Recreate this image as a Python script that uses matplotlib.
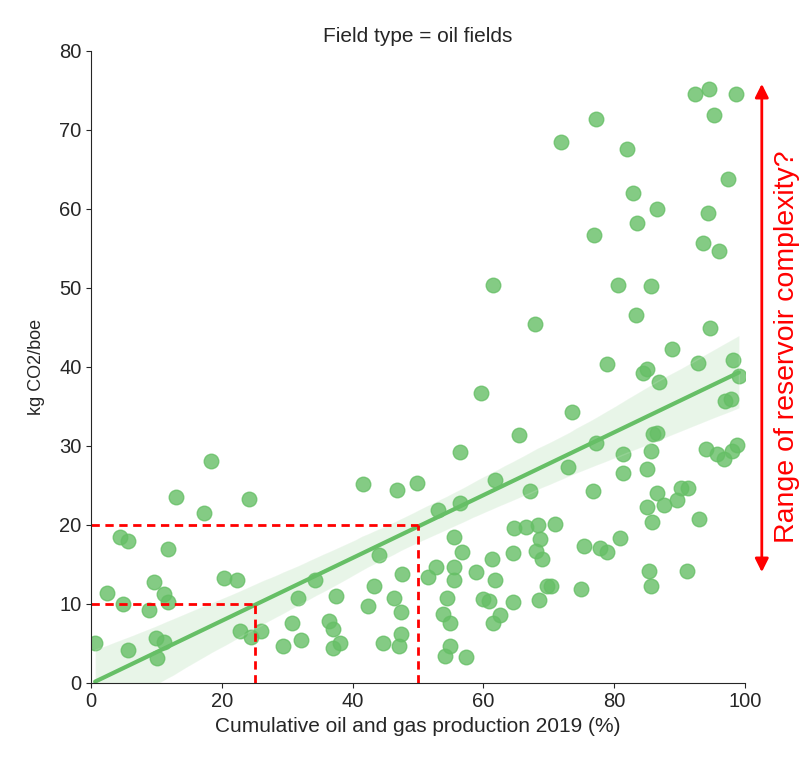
import numpy as np
import seaborn as sns
from matplotlib import pyplot as plt

# cumulative production share (%) and emission intensity (kg CO2/boe), oil fields
cum_prod = [0.6, 2.4, 4.4, 4.8, 5.7, 5.7, 8.8, 9.6, 9.9, 10.0, 11.1, 11.2, 11.7, 11.8, 13.0,
            17.3, 18.3, 20.3, 22.3, 22.8, 24.1, 24.4, 26.0, 29.4, 30.7, 31.6, 32.1, 34.3, 36.4, 37.0,
            37.0, 37.5, 38.1, 41.6, 42.4, 43.2, 44.1, 44.6, 46.3, 46.8, 47.1, 47.4, 47.4, 47.6, 49.9,
            51.6, 52.7, 53.0, 53.9, 54.2, 54.4, 54.9, 54.9, 55.5, 55.5, 55.5, 56.4, 56.5, 56.8, 57.4,
            58.8, 59.6, 59.9, 60.9, 61.3, 61.4, 61.5, 61.8, 61.8, 62.6, 64.5, 64.6, 64.7, 65.4, 66.6,
            67.1, 67.9, 68.0, 68.4, 68.5, 68.7, 68.9, 69.7, 70.4, 71.0, 71.9, 73.0, 73.6, 75.0, 75.4,
            76.8, 76.9, 77.2, 77.3, 77.8, 78.9, 78.9, 80.6, 80.9, 81.3, 81.4, 82.0, 82.9, 83.3, 83.5,
            84.4, 85.0, 85.0, 85.0, 85.3, 85.6, 85.6, 85.7, 85.8, 86.0, 86.6, 86.5, 86.6, 86.9, 87.6,
            88.8, 89.6, 90.3, 91.3, 91.1, 92.4, 92.9, 93.0, 93.6, 94.0, 94.3, 94.5, 94.6, 95.3, 95.7,
            96.0, 96.8, 97.0, 97.4, 97.9, 98.1, 98.2, 98.6, 98.8, 99.1]
intensity = [5.0, 11.4, 18.5, 10.0, 18.0, 4.1, 9.2, 12.7, 5.7, 3.1, 11.2, 5.1, 10.2, 16.9, 23.5,
             21.5, 28.1, 13.2, 13.0, 6.6, 23.2, 5.8, 6.5, 4.6, 7.6, 10.7, 5.4, 13.0, 7.8, 6.8,
             4.4, 11.0, 5.0, 25.1, 9.7, 12.2, 16.2, 5.0, 10.7, 24.4, 4.6, 9.0, 6.2, 13.8, 25.3,
             13.4, 14.6, 21.9, 8.7, 3.4, 10.7, 7.6, 4.6, 18.4, 14.7, 13.0, 22.7, 29.2, 16.6, 3.3,
             14.0, 36.7, 10.6, 10.3, 15.6, 7.6, 50.3, 25.6, 13.0, 8.6, 10.2, 16.4, 19.6, 31.3, 19.7,
             24.3, 45.4, 16.7, 20.0, 10.5, 18.2, 15.6, 12.3, 12.3, 20.1, 68.4, 27.3, 34.3, 11.9, 17.3,
             24.3, 56.7, 71.4, 30.3, 17.0, 16.6, 40.3, 50.3, 18.3, 28.9, 26.6, 67.5, 62.0, 46.5, 58.2,
             39.2, 39.7, 27.0, 22.2, 14.2, 12.2, 50.2, 29.3, 20.4, 31.5, 31.6, 60.0, 24.0, 38.1, 22.5,
             42.3, 23.1, 24.6, 24.6, 14.2, 74.5, 40.5, 20.7, 55.7, 29.6, 59.5, 75.2, 44.9, 71.9, 28.9,
             54.6, 28.3, 35.7, 63.8, 35.9, 29.3, 40.8, 74.5, 30.1, 38.8]

# guide lines (production share -> intensity)
guide_x = [25, 50]
guide_y = [10, 20]
x_ticks = [0, 20, 40, 60, 80, 100]
y_ticks = [0, 10, 20, 30, 40, 50, 60, 70, 80]
range_span = [14.0, 75.8]

sns.set_style("ticks")
plt.rcParams['font.family'] = ['Liberation Sans', 'DejaVu Sans']

fig, ax = plt.subplots(figsize=(8, 7.68), dpi=100)
fig.subplots_adjust(left=0.114, right=0.931, bottom=0.111, top=0.934)

green = '#66bf66'
sns.regplot(x=np.array(cum_prod), y=np.array(intensity), ax=ax, color=green, seed=0,
            scatter_kws={'s': 110, 'alpha': 0.8},
            line_kws={'lw': 3})

for gx, gy in zip(guide_x, guide_y):
    ax.plot([0, gx], [gy, gy], color='red', ls=(0, (3, 2)), lw=2)
    ax.plot([gx, gx], [0, gy], color='red', ls=(0, (3, 2)), lw=2)

ax.annotate('', xy=(102.6, range_span[1]), xytext=(102.6, range_span[0]),
            arrowprops=dict(arrowstyle='<|-|>', color='red', lw=2, mutation_scale=20,
                            shrinkA=0, shrinkB=0),
            annotation_clip=False)
ax.text(106.4, 42.5, 'Range of reservoir complexity?', color='red',
        fontsize=20.5, rotation=90, ha='center', va='center', clip_on=False)

ax.set_xlim(0, 100)
ax.set_ylim(0, 80)
ax.set_xticks(x_ticks)
ax.set_yticks(y_ticks)
ax.tick_params(labelsize=14.5)
ax.set_xlabel('Cumulative oil and gas production 2019 (%)', fontsize=15)
ax.set_ylabel('kg CO2/boe', fontsize=13, labelpad=10)
ax.set_title('Field type = oil fields', fontsize=15)
sns.despine(ax=ax)

fig.savefig('out.png')
